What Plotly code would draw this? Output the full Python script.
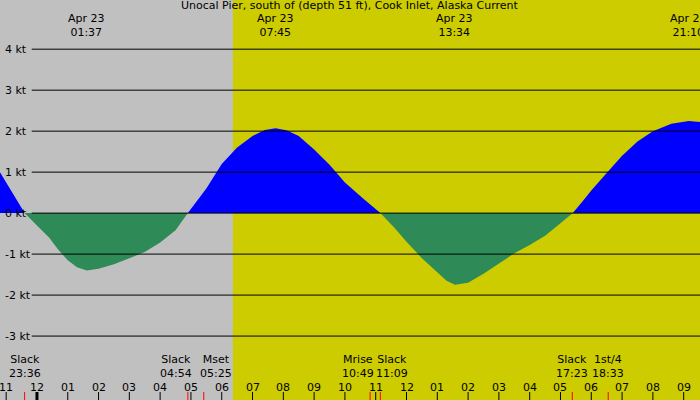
import plotly.graph_objects as go

# hours since midnight Apr 23 (negative = Apr 22)
hours = [-1.2, -0.8, -0.4, 0.0, 0.4, 0.7, 1.0, 1.3, 1.62, 2.0, 2.5, 3.0, 3.5, 4.0, 4.5, 4.9,
         5.2, 5.5, 6.0, 6.5, 7.0, 7.4, 7.75, 8.1, 8.5, 9.0, 9.5, 10.0, 10.6, 11.15,
         11.6, 12.0, 12.5, 13.0, 13.3, 13.57, 14.0, 14.5, 15.0, 15.5, 16.0, 16.5, 17.0, 17.4,
         17.7, 18.0, 18.5, 19.0, 19.5, 20.0, 20.6, 21.17, 21.55]
speed = [1.0, 0.5, 0.0, -0.3, -0.6, -0.9, -1.15, -1.32, -1.4, -1.36, -1.25, -1.1, -0.95, -0.72, -0.42, 0.0,
         0.3, 0.6, 1.2, 1.6, 1.88, 2.03, 2.07, 2.02, 1.88, 1.55, 1.18, 0.75, 0.35, 0.0,
         -0.35, -0.7, -1.1, -1.45, -1.65, -1.75, -1.7, -1.48, -1.22, -0.98, -0.78, -0.55, -0.25, 0.0,
         0.27, 0.55, 0.98, 1.4, 1.75, 2.0, 2.18, 2.25, 2.22]

y_ticks = [-3, -2, -1, 0, 1, 2, 3, 4]
y_labels = ["-3 kt", "-2 kt", "-1 kt", "0 kt", "1 kt", "2 kt", "3 kt", "4 kt"]
x_ticks = list(range(-1, 22))
x_labels = ["11", "12", "01", "02", "03", "04", "05", "06", "07", "08", "09", "10", "11",
            "12", "01", "02", "03", "04", "05", "06", "07", "08", "09"]
top_times = [1.617, 7.75, 13.567, 21.167]
top_labels = ["Apr 23<br>01:37", "Apr 23<br>07:45", "Apr 23<br>13:34", "Apr 23<br>21:10"]
events_t = [-0.4, 4.9, 5.417, 10.817, 11.15, 17.383, 18.55]
events_name = ["Slack", "Slack", "Mset", "Mrise", "Slack", "Slack", "1st/4"]
events_time = ["23:36", "04:54", "05:25", "10:49", "11:09", "17:23", "18:33"]
events_anchor = ["center", "right", "left", "right", "left", "center", "center"]
sunrise = 6.36
X0, X1 = -1.2, 21.53
Y0, Y1 = -4.56, 5.2

pos = [max(v, 0) for v in speed]
neg = [min(v, 0) for v in speed]

fig = go.Figure()
fig.add_trace(go.Scatter(x=hours, y=pos, fill="tozeroy", mode="lines", line=dict(width=0),
                         fillcolor="#0000ff", hoverinfo="skip"))
fig.add_trace(go.Scatter(x=hours, y=neg, fill="tozeroy", mode="lines", line=dict(width=0),
                         fillcolor="#2e8b57", hoverinfo="skip"))

shapes = [
    dict(type="rect", xref="x", yref="paper", x0=X0, x1=sunrise, y0=0, y1=1, fillcolor="#c0c0c0", line_width=0, layer="below"),
    dict(type="rect", xref="x", yref="paper", x0=sunrise, x1=X1, y0=0, y1=1, fillcolor="#cccc00", line_width=0, layer="below"),
]
for v in y_ticks:
    shapes.append(dict(type="line", xref="x", yref="y", x0=-0.17, x1=X1, y0=v, y1=v,
                       line=dict(color="black", width=1), layer="above"))
for t in x_ticks:
    shapes.append(dict(type="line", xref="x", yref="paper", x0=t, x1=t, y0=0, y1=0.02,
                       line=dict(color="black", width=3 if t == 0 else 1)))
for t in events_t:
    shapes.append(dict(type="line", xref="x", yref="paper", x0=t, x1=t, y0=0, y1=0.02,
                       line=dict(color="red", width=1)))

ann = []
font = dict(family="DejaVu Sans", size=11, color="black")
ann.append(dict(text="Unocal Pier, south of (depth 51 ft), Cook Inlet, Alaska Current", x=0.5, y=1, xref="paper",
                yref="paper", xanchor="center", yanchor="top", showarrow=False, font=font, yshift=3))
for t, l in zip(top_times, top_labels):
    ann.append(dict(text=l, x=t, y=1, xref="x", yref="paper", yanchor="top", showarrow=False, font=font,
                    yshift=-10, xanchor="center"))
for v, l in zip(y_ticks, y_labels):
    ann.append(dict(text=l, x=0, y=v, xref="paper", yref="y", xanchor="left", showarrow=False, font=font, xshift=3))
for t, l in zip(x_ticks, x_labels):
    ann.append(dict(text=l, x=t, y=0, xref="x", yref="paper", yanchor="bottom", showarrow=False, font=font, yshift=4))
for t, n, tm, a in zip(events_t, events_name, events_time, events_anchor):
    ann.append(dict(text=n + "<br>" + tm, x=t, y=0, xref="x", yref="paper", yanchor="bottom", xanchor=a,
                    showarrow=False, font=font, yshift=18, xshift={"center": 0, "right": 6, "left": -6}[a]))

fig.update_layout(width=700, height=400, margin=dict(l=0, r=0, t=0, b=0), showlegend=False,
                  plot_bgcolor="#c0c0c0", paper_bgcolor="#c0c0c0", shapes=shapes, annotations=ann,
                  xaxis=dict(range=[X0, X1], showgrid=False, zeroline=False, showticklabels=False, fixedrange=True),
                  yaxis=dict(range=[Y0, Y1], showgrid=False, zeroline=False, showticklabels=False, fixedrange=True))
fig.write_html("out.html", post_script="document.body.style.margin='0';",
               config={"displayModeBar": False})
